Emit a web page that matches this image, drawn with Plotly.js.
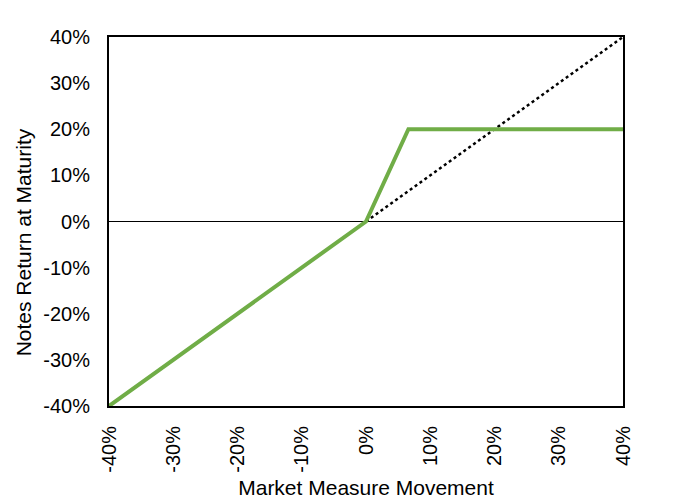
<!DOCTYPE html>
<html>
<head>
<meta charset="utf-8">
<script src="https://cdn.plot.ly/plotly-3.0.1.min.js"></script>
<style>html,body{margin:0;padding:0;background:#fff;}#chart{width:683px;height:502px;}</style>
</head>
<body>
<div id="chart"></div>
<script>
// Market measure movement (x) and notes return (y), in fractions
const notesX = [-0.40, 0.0, 0.066, 0.40];
const notesY = [-0.40, 0.0, 0.20, 0.20];
const marketX = [0.0, 0.40];
const marketY = [0.0, 0.40];
const tickVals = [-0.4, -0.3, -0.2, -0.1, 0, 0.1, 0.2, 0.3, 0.4];
const tickText = ['-40%', '-30%', '-20%', '-10%', '0%', '10%', '20%', '30%', '40%'];
const xTitle = 'Market Measure Movement';
const yTitle = 'Notes Return at Maturity';

const tickFont = {family: 'Liberation Sans, Arial, sans-serif', size: 20, color: '#000'};
const titleFont = {family: 'Liberation Sans, Arial, sans-serif', size: 21, color: '#000'};

const traces = [
  {x: [-0.4, 0.4], y: [0, 0], mode: 'lines', line: {color: '#000', width: 1}, hoverinfo: 'skip', showlegend: false},
  {x: marketX, y: marketY, mode: 'lines', line: {color: '#000', width: 2.5, dash: 'dot'}, showlegend: false},
  {x: notesX, y: notesY, mode: 'lines', line: {color: '#70AD47', width: 4}, showlegend: false}
];

const layout = {
  width: 683, height: 502,
  margin: {l: 109, r: 60, t: 37, b: 96},
  paper_bgcolor: '#fff', plot_bgcolor: '#fff',
  font: tickFont,
  showlegend: false,
  xaxis: {
    range: [-0.4, 0.4], tickvals: tickVals, ticktext: tickText, tickangle: -90,
    showgrid: false, zeroline: false, showline: true, linecolor: '#000', linewidth: 2, mirror: true,
    ticks: '', ticklabelstandoff: 10, tickfont: tickFont,
    title: {text: xTitle, font: titleFont, standoff: 9}
  },
  yaxis: {
    range: [-0.4, 0.4], tickvals: tickVals, ticktext: tickText,
    showgrid: false, zeroline: false, showline: true, linecolor: '#000', linewidth: 2, mirror: true,
    ticks: '', ticklabelstandoff: 13, tickfont: tickFont
  },
  annotations: [{
    text: yTitle, textangle: -90, font: titleFont, showarrow: false,
    xref: 'paper', yref: 'paper', x: -0.167, y: 0.444, xanchor: 'center', yanchor: 'middle'
  }]
};

Plotly.newPlot('chart', traces, layout, {displayModeBar: false, staticPlot: true});
</script>
</body>
</html>
